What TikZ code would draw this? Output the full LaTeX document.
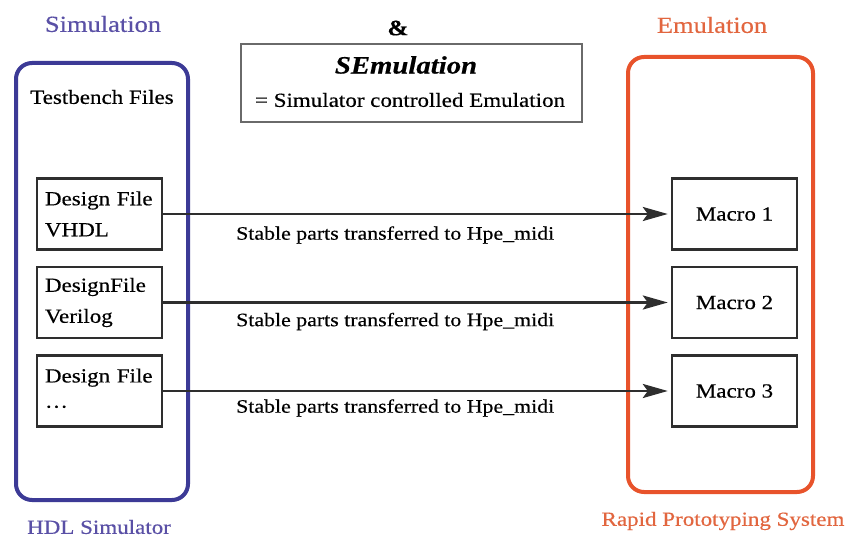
\documentclass[tikz,border=0pt]{standalone}
\usepackage{fontspec}
\setmainfont{Liberation Serif}[FakeStretch=1.15, FakeBold=0.4]
\usetikzlibrary{arrows.meta}
\definecolor{simblue}{HTML}{3C3A96}
\definecolor{simtext}{HTML}{5A50A6}
\definecolor{emuorange}{HTML}{E8532B}
\definecolor{emutext}{HTML}{E2663F}
\definecolor{boxgray}{HTML}{2E2E2E}
\definecolor{semgray}{HTML}{6A6A6A}
\begin{document}
\begin{tikzpicture}[x=1pt,y=-1pt,
  bigbox/.style={draw, line width=4pt, rounded corners=16pt, inner sep=0pt},
  filebox/.style={draw=boxgray, line width=2.4pt, minimum width=125pt, minimum height=71pt,
    text width=109pt, inner xsep=8pt, inner ysep=0pt, align=left, font=\fontsize{20}{31}\selectfont},
  macrobox/.style={draw=boxgray, line width=2.4pt, minimum width=125pt, minimum height=71pt,
    inner sep=0pt, font=\fontsize{20}{24}\selectfont},
  semtxt/.style={font=\fontsize{20}{24}\selectfont, inner sep=0pt},
  headtxt/.style={font=\fontsize{23}{27}\selectfont, inner sep=0pt},
  arr/.style={draw=boxgray, line width=2.6pt, -{Stealth[length=25pt, width=14pt, inset=5pt]}, shorten >=3pt},
  lbl/.style={font=\fontsize{19}{23}\selectfont, inner sep=0pt, anchor=north}
]
\useasboundingbox (0,0) rectangle (859,537);
\fill[white] (0,0) rectangle (859,537);

% big containers
\node[bigbox, draw=simblue, minimum width=172pt, minimum height=437pt] (sim) at (102,281.5) {};
\node[bigbox, draw=emuorange, minimum width=185pt, minimum height=435pt] (emu) at (720.5,274.5) {};

% headings
\node[headtxt, text=simtext] (simhead) at (103,24) {Simulation};
\node[headtxt, text=emutext] (emuhead) at (712,25) {Emulation};
\node[font=\fontsize{22}{26}\selectfont\bfseries, inner sep=0pt] (amp) at (398,28) {\&};
\node[semtxt, text=simtext] (hdl) at (99,527) {HDL Simulator};
\node[semtxt, text=emutext] (rps) at (723,521) {Rapid Prototyping System};

% SEmulation box
\node[draw=semgray, line width=1.8pt, minimum width=341pt, minimum height=78pt, inner sep=0pt] (sem) at (411.5,83) {};
\node[font=\fontsize{25}{30}\selectfont\bfseries\itshape, inner sep=0pt] (semtitle) at (406,65) {SEmulation};
\node[semtxt] (semsub) at (410,100) {= Simulator controlled Emulation};

% testbench
\node[semtxt] (tb) at (102,97) {Testbench Files};

% design files
\node[filebox] (df1) at (99.5,214) {Design File\\VHDL};
\node[filebox] (df2) at (99.5,302.5) {DesignFile\\Verilog};
\node[filebox] (df3) at (99.5,391) {Design File\\···};

% macros
\node[macrobox] (m1) at (734.5,214) {Macro 1};
\node[macrobox] (m2) at (734.5,302.5) {Macro 2};
\node[macrobox] (m3) at (734.5,391) {Macro 3};

% connectors
\draw[arr] (df1.east) -- (m1.west) node[lbl, pos=0.457, below=11pt] {Stable parts transferred to Hpe\_midi};
\draw[arr] (df2.east) -- (m2.west) node[lbl, pos=0.457, below=9pt] {Stable parts transferred to Hpe\_midi};
\draw[arr] (df3.east) -- (m3.west) node[lbl, pos=0.457, below=7pt] {Stable parts transferred to Hpe\_midi};
\end{tikzpicture}
\end{document}
